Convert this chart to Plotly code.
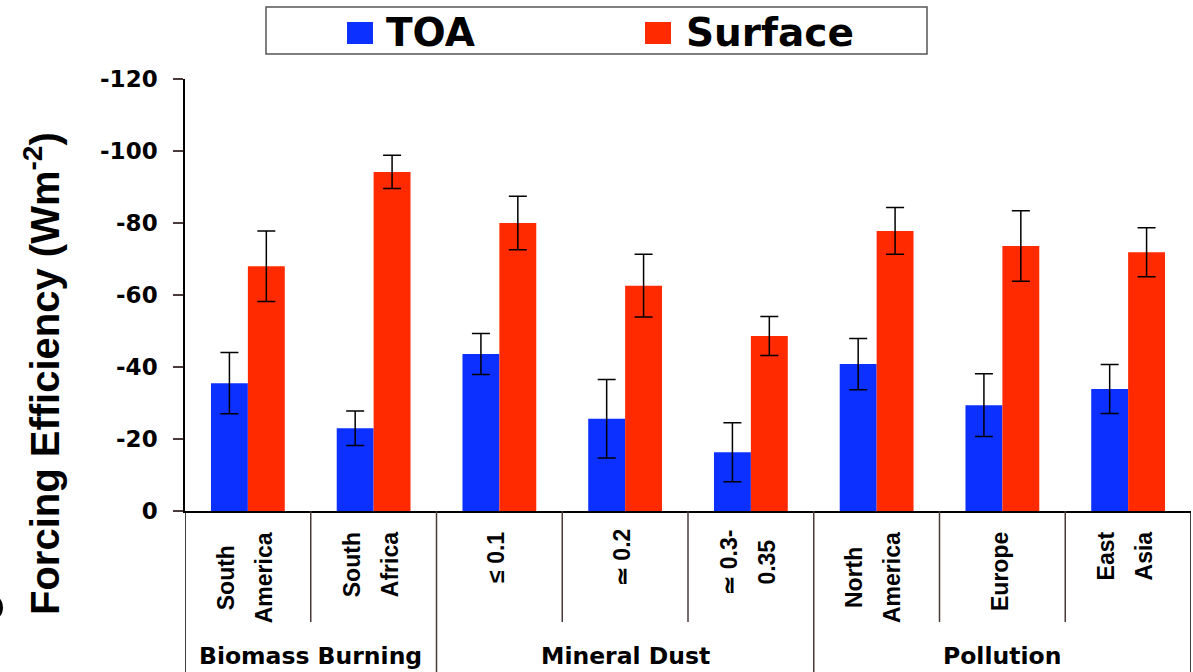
import plotly.graph_objects as go

# ---- data -------------------------------------------------------------
groups = ["Biomass Burning", "Mineral Dust", "Pollution"]
group_sizes = [2, 3, 3]
categories = [
    ["South", "America"],
    ["South", "Africa"],
    ["≤ 0.1"],
    ["≃ 0.2"],
    ["≃ 0.3-", "0.35"],
    ["North", "America"],
    ["Europe"],
    ["East", "Asia"],
]
toa = [-35.5, -23.0, -43.6, -25.6, -16.3, -40.8, -29.4, -33.9]
toa_err = [8.5, 4.8, 5.7, 10.9, 8.2, 7.1, 8.7, 6.8]
surface = [-68.0, -94.2, -80.0, -62.6, -48.6, -77.8, -73.6, -71.9]
surface_err = [9.8, 4.6, 7.4, 8.7, 5.4, 6.5, 9.8, 6.8]
y_ticks = [0, -20, -40, -60, -80, -100, -120]
y_tick_text = ["0", "-20", "-40", "-60", "-80", "-100", "-120"]

# ---- layout geometry (pixels) -----------------------------------------
W, H = 1193, 672
ML, MR, MT, MB = 185, 2, 79, 161
PW, PH = W - ML - MR, H - MT - MB
BLUE, RED = "#0c30ff", "#ff2a00"
SEP = "#4a3a3a"
TXT_FONT = "Liberation Sans, Arial, sans-serif"
WIDE_FONT = "DejaVu Sans, sans-serif"


def px_x(p):
    return (p - ML) / PW


def px_y(p):
    return (H - MB - p) / PH


n = len(categories)
x = list(range(n))
cat_w = PW / n  # pixels per category

fig = go.Figure()
fig.add_bar(
    x=x, y=toa, name="TOA", marker_color=BLUE, marker_line_width=0,
    error_y=dict(type="data", array=toa_err, symmetric=True,
                 color="black", thickness=1.5, width=9),
)
fig.add_bar(
    x=x, y=surface, name="Surface", marker_color=RED, marker_line_width=0,
    error_y=dict(type="data", array=surface_err, symmetric=True,
                 color="black", thickness=1.5, width=9),
)

shapes = []
annotations = []

# category separators below the axis
bottom = px_y(H)
inner_bottom = px_y(622)
group_edges = []
acc = 0
for s in group_sizes:
    acc += s
    group_edges.append(acc)
for i in range(1, n):
    yb = bottom if i in group_edges else inner_bottom
    shapes.append(dict(type="line", xref="x", yref="paper",
                       x0=i - 0.5, x1=i - 0.5, y0=0, y1=yb,
                       line=dict(color=SEP, width=1.5)))
# outer borders of the label table
for xe in (-0.5, n - 0.5):
    shapes.append(dict(type="line", xref="x", yref="paper",
                       x0=xe, x1=xe, y0=0, y1=bottom,
                       line=dict(color="black", width=1.5)))

# rotated category labels, one annotation per line
ARIAL_BOLD = {" ": 278, "-": 333, ".": 278, "<": 584, "≤": 549, "≃": 584,
              "A": 722, "E": 667, "N": 722, "S": 667, "a": 556, "c": 556,
              "e": 556, "f": 333, "h": 611, "i": 278, "m": 889, "n": 611,
              "o": 611, "p": 611, "r": 389, "s": 556, "t": 333, "u": 611}
CAT_SIZE = 23


def text_len(s, size):
    return sum(ARIAL_BOLD.get(ch, 556) for ch in s) / 1000 * size


label_top = 532
line_step = 38 / cat_w  # category units between stacked lines
for i, lines in enumerate(categories):
    block = max(text_len(t, CAT_SIZE) for t in lines)
    yc = label_top + block / 2
    k = len(lines)
    for j, t in enumerate(lines):
        xo = i - 3 / cat_w + (j - (k - 1) / 2) * line_step
        annotations.append(dict(
            x=xo, y=px_y(yc), xref="x", yref="paper", text=t,
            textangle=-90, showarrow=False, xanchor="center", yanchor="middle",
            font=dict(family=TXT_FONT, size=CAT_SIZE, color="black",
                      weight="bold"),
        ))

# group labels
start = 0
for g, s in zip(groups, group_sizes):
    annotations.append(dict(
        x=start - 0.5 + s / 2, y=px_y(656), xref="x", yref="paper",
        text=g, showarrow=False, xanchor="center", yanchor="middle",
        font=dict(family=WIDE_FONT, size=23.5, color="black", weight="bold"),
    ))
    start += s

# y-axis title
annotations.append(dict(
    x=px_x(42), y=px_y(374), xref="paper", yref="paper",
    text="Forcing Efficiency (Wm<sup>-2</sup>)", textangle=-90,
    showarrow=False, xanchor="center", yanchor="middle",
    font=dict(family=TXT_FONT, size=40, color="black", weight="bold"),
))
# panel letter at the left edge
annotations.append(dict(
    x=px_x(-14), y=px_y(608), xref="paper", yref="paper",
    text="c", textangle=-90, showarrow=False,
    xanchor="center", yanchor="middle",
    font=dict(family=TXT_FONT, size=50, color="black", weight="bold"),
))

# boxed legend across the top
shapes.append(dict(type="rect", xref="paper", yref="paper",
                   x0=px_x(266), x1=px_x(927), y0=px_y(54), y1=px_y(7),
                   line=dict(color="#555555", width=1.5), fillcolor="white"))
legend_items = [("TOA", BLUE, 347, 387), ("Surface", RED, 645, 687)]
for name, col, sq, tx in legend_items:
    shapes.append(dict(type="rect", xref="paper", yref="paper",
                       x0=px_x(sq), x1=px_x(sq + 26), y0=px_y(44), y1=px_y(22),
                       line=dict(width=0), fillcolor=col))
    annotations.append(dict(
        x=px_x(tx - 3), y=px_y(32), xref="paper", yref="paper",
        text=name, showarrow=False, xanchor="left", yanchor="middle",
        font=dict(family=WIDE_FONT, size=39, color="black", weight="bold"),
    ))

fig.update_layout(
    width=W, height=H,
    margin=dict(l=ML, r=MR, t=MT, b=MB, pad=0),
    paper_bgcolor="white", plot_bgcolor="white",
    barmode="group", bargap=0.413, bargroupgap=0,
    showlegend=False,
    shapes=shapes, annotations=annotations,
    xaxis=dict(range=[-0.5, n - 0.5], showticklabels=False, ticks="",
               showgrid=False, zeroline=False, showline=True,
               linecolor="black", linewidth=1.5, fixedrange=True),
    yaxis=dict(range=[0, -120], tickvals=y_ticks, ticktext=y_tick_text,
               ticks="outside", ticklen=10, tickwidth=1.5, tickcolor=SEP,
               ticklabelstandoff=11,
               showgrid=False, zeroline=False, showline=True,
               linecolor="black", linewidth=1.5,
               tickfont=dict(family=WIDE_FONT, size=23, color="black",
                             weight="bold"),
               fixedrange=True),
    font=dict(family=WIDE_FONT, color="black"),
)

fig.write_html("out.html")
